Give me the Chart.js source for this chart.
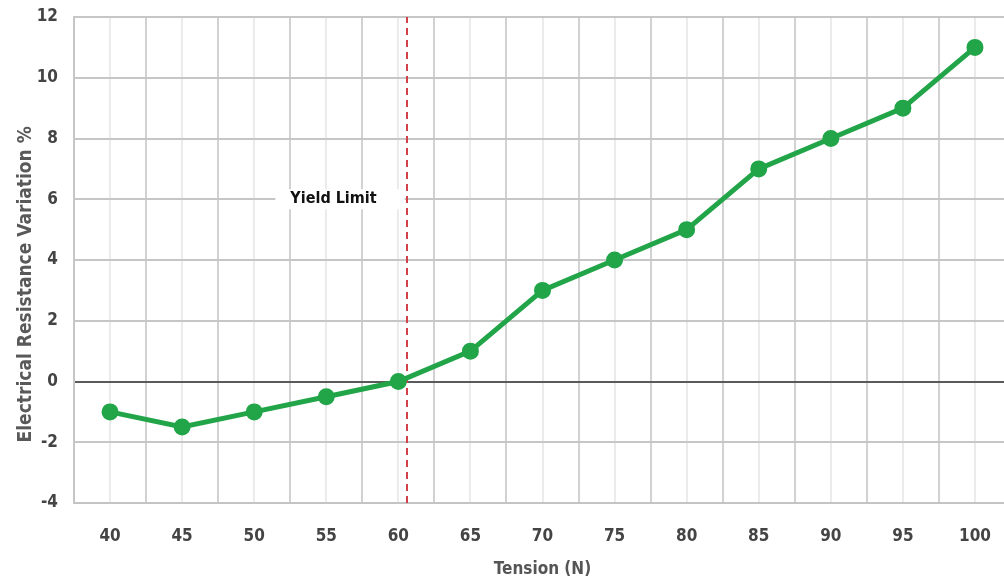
<!DOCTYPE html>
<html>
<head>
<meta charset="utf-8">
<script src="https://cdn.jsdelivr.net/npm/chart.js@4.4.0/dist/chart.umd.min.js"></script>
<style>
html,body{margin:0;padding:0;background:#fff;overflow:hidden;width:1004px;height:584px;}
#wrap{width:1022px;height:584px;position:absolute;left:0;top:0;}
</style>
</head>
<body>
<div id="wrap"><canvas id="c"></canvas></div>
<script>
const tension = [40, 45, 50, 55, 60, 65, 70, 75, 80, 85, 90, 95, 100];
const resistanceVariation = [-1, -1.5, -1, -0.5, 0, 1, 3, 4, 5, 7, 8, 9, 11];
const yieldLimit = 60.6;
const yieldLabel = 'Yield Limit';
const yieldLabelAnchor = {x: 55.5, y: 6};
const yTicks = [-4, -2, 0, 2, 4, 6, 8, 10, 12];
const xTitle = 'Tension (N)';
const yTitle = 'Electrical Resistance Variation %';
const yTitleCenterValue = 3.2;

const FONT = '"Liberation Sans Narrow", "DejaVu Sans Condensed", "Liberation Sans", sans-serif';

const yieldTextPlugin = {
  id: 'yieldText',
  beforeDatasetsDraw(chart) {
    const {ctx, scales} = chart;
    const x = scales.x.getPixelForValue(yieldLabelAnchor.x);
    const y = scales.y.getPixelForValue(yieldLabelAnchor.y);
    ctx.save();
    ctx.font = 'bold 16px ' + FONT;
    const w = ctx.measureText(yieldLabel).width;
    ctx.fillStyle = '#fff';
    ctx.fillRect(x - w / 2 - 15, y - 10, w + 43, 20);
    ctx.fillStyle = '#111';
    ctx.textAlign = 'center';
    ctx.textBaseline = 'middle';
    ctx.fillText(yieldLabel, x, y);
    ctx.restore();
  },
  afterDraw(chart) {
    const {ctx, scales} = chart;
    const y = scales.y.getPixelForValue(yTitleCenterValue);
    const x = scales.y.left + 26;
    ctx.save();
    ctx.translate(x, y);
    ctx.rotate(-Math.PI / 2);
    ctx.font = 'bold 19px ' + FONT;
    ctx.fillStyle = '#595959';
    ctx.textAlign = 'center';
    ctx.textBaseline = 'middle';
    ctx.fillText(yTitle, 0, 0);
    ctx.restore();
  }
};

new Chart(document.getElementById('c'), {
  type: 'line',
  data: {
    datasets: [
      {
        data: tension.map((t, i) => ({x: t, y: resistanceVariation[i]})),
        borderColor: '#21a548',
        backgroundColor: '#21a548',
        borderWidth: 5,
        pointRadius: 6,
        pointHoverRadius: 6,
        tension: 0,
        order: 1
      },
      {
        data: [{x: yieldLimit, y: yTicks[0]}, {x: yieldLimit, y: yTicks[yTicks.length - 1]}],
        borderColor: '#d2404a',
        borderWidth: 2,
        borderDash: [7, 5],
        pointRadius: 0,
        order: 2
      }
    ]
  },
  plugins: [yieldTextPlugin],
  options: {
    responsive: true,
    maintainAspectRatio: false,
    devicePixelRatio: 1,
    animation: false,
    events: [],
    layout: {padding: {top: 17, right: 0, left: 0, bottom: 0}},
    plugins: {legend: {display: false}, tooltip: {enabled: false}},
    scales: {
      x: {
        type: 'linear',
        min: tension[0] - 2.5,
        max: tension[tension.length - 1] + 2.5,
        afterBuildTicks(scale) {
          const t = [];
          for (let v = scale.min; v <= scale.max + 1e-9; v += 2.5) t.push({value: v});
          scale.ticks = t;
        },
        afterFit(scale) { scale.height = 81; scale.paddingLeft = 0; scale.paddingRight = 0; },
        ticks: {
          autoSkip: false,
          maxRotation: 0,
          padding: 23,
          color: '#444',
          font: {family: FONT, size: 17, weight: 'bold'},
          callback: (v) => tension.includes(v) ? String(v) : ''
        },
        grid: {
          drawTicks: false,
          lineWidth: 2,
          color: (ctx) => (ctx.tick && tension.includes(ctx.tick.value)) ? '#ebebeb' : '#d2d2d2'
        },
        border: {display: true, color: '#c4c4c4', width: 2},
        title: {
          display: true,
          text: xTitle,
          color: '#555',
          font: {family: FONT, size: 17, weight: 'bold'},
          padding: {top: 9}
        }
      },
      y: {
        min: yTicks[0],
        max: yTicks[yTicks.length - 1],
        afterBuildTicks(scale) { scale.ticks = yTicks.map(v => ({value: v})); },
        afterFit(scale) { scale.width = 74; scale.paddingTop = 0; scale.paddingBottom = 0; },
        ticks: {
          padding: 16,
          color: '#444',
          font: {family: FONT, size: 17, weight: 'bold'}
        },
        grid: {
          drawTicks: false,
          lineWidth: 2,
          color: (ctx) => (ctx.tick && ctx.tick.value === 0) ? '#5a5a5a' : '#c6c6c6'
        },
        border: {display: true, color: '#c6c6c6', width: 2},
        title: {display: false, text: yTitle}
      }
    }
  }
});
</script>
</body>
</html>
